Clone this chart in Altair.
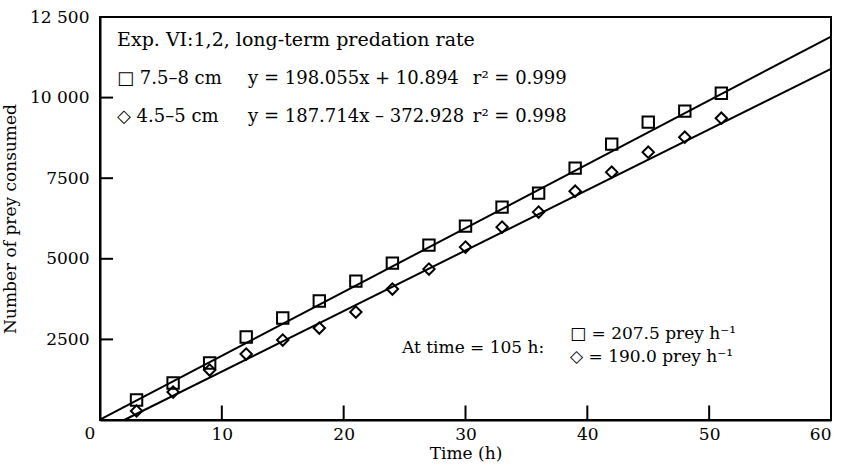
import altair as alt
import pandas as pd

# ---- data ----
times = [3, 6, 9, 12, 15, 18, 21, 24, 27, 30, 33, 36, 39, 42, 45, 48, 51]
large_prey = [620, 1147, 1767, 2573, 3162, 3689, 4309, 4867, 5425, 6014,
              6603, 7037, 7812, 8556, 9238, 9579, 10137]
small_prey = [279, 868, 1550, 2046, 2480, 2852, 3348, 4061, 4681, 5363,
              5983, 6448, 7099, 7688, 8308, 8773, 9362]
series_names = ["7.5–8 cm", "4.5–5 cm"]

# fitted regression lines (end points)
fit_large_x = [0, 60]
fit_large_y = [10.894, 11894.2]
fit_small_x = [1.987, 60]
fit_small_y = [0, 10889.9]

x_tick_values = [10, 20, 30, 40, 50, 60]
x_tick_labels = ["10", "20", "30", "40", "50", "60"]
y_tick_values = [2500, 5000, 7500, 10000, 12500]
y_tick_labels = ["2500", "5000", "7500", "10 000", "12 500"]

ann_title_text = ["Exp. VI:1,2, long-term predation rate"]
ann_title_x = [1.40]
ann_title_y = [11788]

ann_top_text = [
    "□ 7.5–8 cm", "y = 198.055x + 10.894", "r² = 0.999",
    "◇ 4.5–5 cm", "y = 187.714x – 372.928", "r² = 0.998",
]
ann_top_x = [1.40, 12.15, 30.6, 1.40, 12.15, 30.6]
ann_top_y = [10579, 10579, 10579, 9401, 9401, 9401]

ann_bot_text = ["At time = 105 h:", "□ = 207.5 prey h⁻¹", "◇ = 190.0 prey h⁻¹"]
ann_bot_x = [24.79, 38.58, 38.58]
ann_bot_y = [2233, 2668, 1954]

FONT = "DejaVu Serif"

pts = pd.DataFrame({
    "t": times * 2,
    "n": large_prey + small_prey,
    "s": [series_names[0]] * len(times) + [series_names[1]] * len(times),
})
fits = pd.DataFrame({
    "t": fit_large_x + fit_small_x,
    "n": fit_large_y + fit_small_y,
    "s": [series_names[0]] * 2 + [series_names[1]] * 2,
})
ann_title = pd.DataFrame({"x": ann_title_x, "y": ann_title_y, "text": ann_title_text})
ann_top = pd.DataFrame({"x": ann_top_x, "y": ann_top_y, "text": ann_top_text})
ann_bot = pd.DataFrame({"x": ann_bot_x, "y": ann_bot_y, "text": ann_bot_text})


def label_expr(vals, labs):
    e = "''"
    for v, l in zip(vals, labs):
        e = f"datum.value == {v} ? '{l}' : ({e})"
    return e


xs = alt.Scale(domain=[0, 60], nice=False)
ys = alt.Scale(domain=[0, 12500], nice=False)

x_enc = alt.X("t:Q", scale=xs, axis=alt.Axis(
    title="Time (h)", values=x_tick_values,
    labelExpr=label_expr(x_tick_values, x_tick_labels),
    tickSize=0, labelPadding=6, grid=False, domainColor="black", domainWidth=2,
    labelFont=FONT, labelFontSize=17, labelColor="black",
    titleFont=FONT, titleFontSize=17, titleFontWeight="normal", titleColor="black",
    titlePadding=3))
y_enc = alt.Y("n:Q", scale=ys, axis=alt.Axis(
    title="Number of prey consumed", values=y_tick_values,
    labelExpr=label_expr(y_tick_values, y_tick_labels),
    tickSize=0, labelPadding=11, grid=False, domainColor="black", domainWidth=2,
    labelFont=FONT, labelFontSize=17, labelColor="black",
    titleFont=FONT, titleFontSize=17, titleFontWeight="normal", titleColor="black",
    titlePadding=10))

points = alt.Chart(pts).mark_point(filled=False, color="black", strokeWidth=2,
                                   size=130, opacity=1).encode(
    x=x_enc, y=y_enc,
    shape=alt.Shape("s:N", scale=alt.Scale(domain=series_names,
                                           range=["square", "diamond"]), legend=None),
)

lines = alt.Chart(fits).mark_line(color="black", strokeWidth=2).encode(
    x="t:Q", y="n:Q", detail="s:N")

# inward-pointing tick marks (drawn as short rules from the axes into the plot)
tick_x_df = pd.DataFrame({"tx": x_tick_values[:-1], "ty0": [0.0] * 5, "ty1": [450.0] * 5})
tick_y_df = pd.DataFrame({"ty": y_tick_values[:-1], "tx0": [0.0] * 4, "tx1": [1.07] * 4})
xticks = alt.Chart(tick_x_df).mark_rule(stroke="black", strokeWidth=2).encode(
    x=alt.X("tx:Q", scale=xs), y=alt.Y("ty0:Q", scale=ys), y2="ty1:Q")
yticks = alt.Chart(tick_y_df).mark_rule(stroke="black", strokeWidth=2).encode(
    y=alt.Y("ty:Q", scale=ys), x=alt.X("tx0:Q", scale=xs), x2="tx1:Q")

texts_title = alt.Chart(ann_title).mark_text(align="left", baseline="middle", font=FONT,
                                             fontSize=19, color="black").encode(
    x="x:Q", y="y:Q", text="text:N")
texts_top = alt.Chart(ann_top).mark_text(align="left", baseline="middle", font=FONT,
                                         fontSize=18, color="black").encode(
    x="x:Q", y="y:Q", text="text:N")
texts_bot = alt.Chart(ann_bot).mark_text(align="left", baseline="middle", font=FONT,
                                         fontSize=17, color="black").encode(
    x="x:Q", y="y:Q", text="text:N")

origin = alt.Chart(pd.DataFrame({"x": [0], "y": [0], "text": ["0"]})).mark_text(
    align="center", baseline="middle", font=FONT, fontSize=17, color="black",
    dx=-10, dy=14).encode(x="x:Q", y="y:Q", text="text:N")

chart = alt.layer(points, lines, texts_title, texts_top, texts_bot,
                  origin, xticks, yticks).properties(
    width=731, height=403,
    autosize=alt.AutoSizeParams(type="none"),
    padding={"left": 100, "top": 17, "right": 11, "bottom": 46},
    background="white",
).configure_view(stroke="black", strokeWidth=2)

chart.save("out.html", embed_options={"renderer": "svg", "actions": False})
